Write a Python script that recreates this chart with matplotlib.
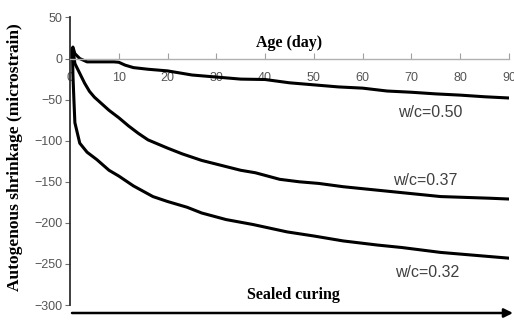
import numpy as np
import matplotlib.pyplot as plt

# age (day) and autogenous shrinkage (microstrain)
days_050 = [0, 0.3, 0.6, 1, 2, 3.5, 6, 9, 10, 11.3, 13, 16, 20, 25, 29, 35, 40, 45, 50, 55, 60, 65, 70, 75, 80, 85, 90]
shr_050 = [0, 10, 14, 6, 0, -4, -4, -4, -4.5, -8, -11, -13, -15, -20, -22, -25, -25.5, -29.5, -32, -34.5, -36, -39.5, -41, -43, -44.5, -46.5, -48]

days_037 = [0, 0.3, 0.6, 1, 2, 3, 4, 5, 6.5, 8, 10, 12, 14, 16, 18, 20, 23, 27, 31, 35, 38,
            43, 47, 51, 56, 61, 66, 71, 76, 81, 86, 90]
shr_037 = [0, 10, 12, -6, -18, -30, -40, -47, -55, -63, -72, -82, -91, -99, -104, -109, -116, -124, -130, -136, -139,
           -147, -150, -152, -156, -159, -162, -165, -168, -169, -170, -171]

days_032 = [0, 0.3, 0.5, 0.6, 0.8, 1, 2, 3.5, 5.5, 8, 10, 13, 17, 20, 24, 27, 32, 37.5,
            44.5, 50, 56, 63, 68, 76, 82, 90]
shr_032 = [0, 10, 12, -20, -50, -78, -103, -114, -123, -136, -143, -155, -168, -174, -181, -188, -196, -202,
           -211, -216, -222, -227, -230, -236, -239, -243]

x_ticks = [0, 10, 20, 30, 40, 50, 60, 70, 80, 90]
y_ticks = [50, 0, -50, -100, -150, -200, -250, -300]

labels = ["w/c=0.50", "w/c=0.37", "w/c=0.32"]
label_pos = [(73.8, -66), (72.9, -148), (73.2, -260)]


def main():
    plt.rcParams['font.family'] = ['Liberation Sans', 'DejaVu Sans']
    fig = plt.figure(figsize=(5.14, 3.2), dpi=100)
    ax = fig.add_axes([70 / 514, 1 - 305 / 320, 439 / 514, 287.5 / 320])

    for d, s in [(days_050, shr_050), (days_037, shr_037), (days_032, shr_032)]:
        ax.plot(d, s, color='black', lw=2.2, solid_joinstyle='round')

    ax.set_xlim(0, 90)
    ax.set_ylim(-300, 50)
    ax.set_xticks(x_ticks)
    ax.set_yticks(y_ticks)
    ax.set_yticklabels([str(v).replace('-', '\u2212') for v in y_ticks])

    ax.spines['top'].set_visible(False)
    ax.spines['right'].set_visible(False)
    ax.spines['bottom'].set_position(('data', 0))
    ax.spines['bottom'].set_color('#b0b0b0')
    ax.spines['bottom'].set_linewidth(1.0)
    ax.spines['left'].set_color('#303030')
    ax.spines['left'].set_linewidth(1.3)

    ax.tick_params(axis='x', direction='in', length=4, color='#a0a0a0', pad=10,
                   labelsize=9, labelcolor='#555555')
    ax.tick_params(axis='y', direction='out', length=3.5, color='#707070', pad=2,
                   labelsize=9, labelcolor='#555555')

    for txt, (x, y) in zip(labels, label_pos):
        ax.text(x, y, txt, fontsize=11.5, color='#404040', ha='center', va='center')

    ax.text(45, 19.5, "Age (day)", family='Liberation Serif', weight='bold',
            fontsize=11.5, ha='center', va='center')

    fig.text(15 / 514, 1 - 157 / 320, "Autogenous shrinkage (microstrain)",
             family='Liberation Serif', weight='bold', fontsize=12.5,
             rotation=90, ha='center', va='center')
    fig.text(293 / 514, 1 - 295 / 320, "Sealed curing", family='Liberation Serif',
             weight='bold', fontsize=11.5, ha='center', va='center')

    ax.annotate('', xy=(513 / 514, 1 - 313 / 320), xytext=(72 / 514, 1 - 313 / 320),
                xycoords='figure fraction', textcoords='figure fraction',
                arrowprops=dict(arrowstyle='-|>', color='black', lw=1.8,
                                mutation_scale=13, shrinkA=0, shrinkB=0))

    fig.savefig("out.png", dpi=100)


if __name__ == "__main__":
    main()
